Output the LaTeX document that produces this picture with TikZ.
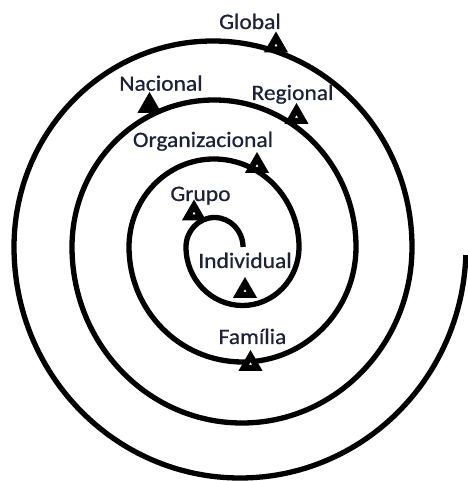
\documentclass[tikz,border=0pt]{standalone}
\usepackage{fontspec}
\setmainfont{Carlito}[FakeStretch=1.07,FakeBold=0.6]
\usetikzlibrary{shapes.geometric}
\definecolor{lblc}{RGB}{28,32,58}
\begin{document}
\begin{tikzpicture}[x=1pt,y=1pt,
  spiral/.style={line width=5.3pt, draw=black},
  tri/.style={regular polygon, regular polygon sides=3, draw=black, fill=white, line width=6pt, minimum size=16pt, inner sep=0pt, outer sep=0pt},
  trisolid/.style={tri, fill=black},
  lbl/.style={font=\fontsize{22}{24}\selectfont, text=lblc, anchor=base, inner sep=0pt}]
\useasboundingbox (0,0) rectangle (467,481);
\fill[white] (0,0) rectangle (467,481);
\draw[spiral] (243,234) arc[start angle=0,end angle=180,x radius=28.5,y radius=29.5]
  arc[start angle=180,end angle=360,x radius=56.5,y radius=58.5]
  arc[start angle=0,end angle=180,x radius=85,y radius=88]
  arc[start angle=180,end angle=360,x radius=113.5,y radius=115]
  arc[start angle=0,end angle=180,x radius=142,y radius=147]
  arc[start angle=180,end angle=360,x radius=170,y radius=176]
  arc[start angle=0,end angle=180,x radius=199,y radius=206]
  arc[start angle=180,end angle=358,x radius=226,y radius=231];
% triangles
\node[tri] (tGlobal) at (276,435.5) {};
\node[trisolid] (tNacional) at (149.5,375) {};
\node[tri] (tRegional) at (296.5,364) {};
\node[tri] (tOrg) at (257,315) {};
\node[tri] (tGrupo) at (194,267.5) {};
\node[tri] (tInd) at (245,190) {};
\node[tri] (tFam) at (250.5,117) {};
% labels
\node[lbl] (lGlobal) at (250,452) {Global};
\node[lbl] (lNacional) at (161,390.3) {Nacional};
\node[lbl] (lRegional) at (292.5,381) {Regional};
\node[lbl] (lOrg) at (203,334) {Organizacional};
\node[lbl] (lGrupo) at (200.5,280) {Grupo};
\node[lbl] (lInd) at (245,213) {Individual};
\node[lbl] (lFam) at (252.5,137) {Família};
\end{tikzpicture}
\end{document}
